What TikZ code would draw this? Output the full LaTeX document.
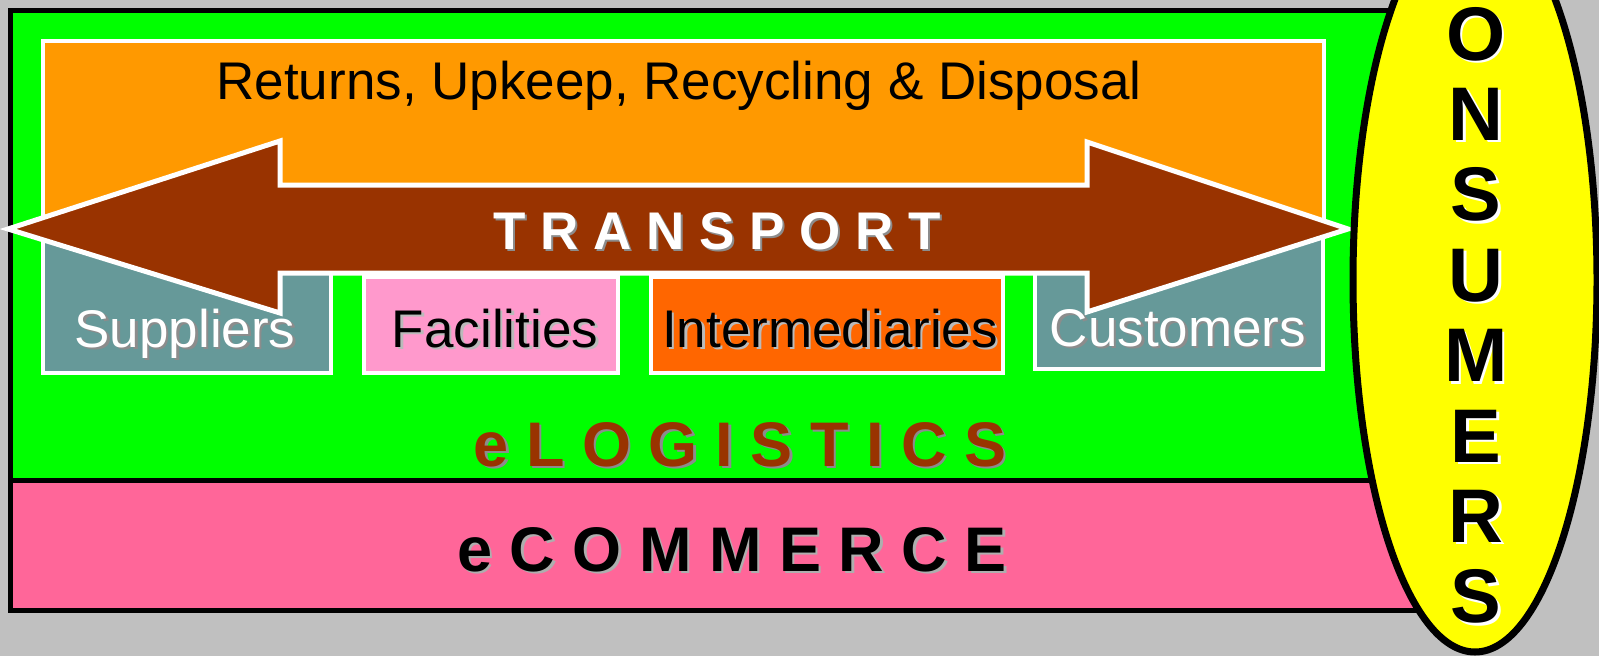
\documentclass[tikz,border=0pt]{standalone}
\usepackage{fontspec}
\setmainfont{Liberation Sans}
\usepackage{tikz}
\usetikzlibrary{positioning}
\usepackage{xcolor}

\definecolor{bggray}{HTML}{C0C0C0}
\definecolor{lgreen}{HTML}{00FF00}
\definecolor{compink}{HTML}{FF6699}
\definecolor{retorange}{HTML}{FF9900}
\definecolor{trbrown}{HTML}{993300}
\definecolor{partteal}{HTML}{669999}
\definecolor{facpink}{HTML}{FF99CC}
\definecolor{intorange}{HTML}{FF6600}
\definecolor{conyellow}{HTML}{FFFF00}
\definecolor{shgray}{HTML}{8C8C8C}

% text with a small drop shadow
\newcommand{\shtxt}[2]{\makebox[0pt][l]{\hspace{2.5pt}\raisebox{-2.5pt}{\textcolor{#1}{#2}}}#2}

\begin{document}
\begin{tikzpicture}[x=1pt,y=-1pt]
  \tikzstyle{lbl}=[inner sep=0pt,anchor=base,font=\fontsize{53}{60}\selectfont]
  \tikzstyle{big}=[inner sep=0pt,anchor=base,font=\fontsize{63}{70}\selectfont\bfseries]
  \tikzstyle{layer}=[draw=black,line width=5pt]
  \tikzstyle{wbox}=[draw=white,line width=4pt]

  \useasboundingbox (0,0) rectangle (1599,656);
  \clip (0,0) rectangle (1599,656);
  \fill[bggray] (0,0) rectangle (1599,656);

  % layers
  \draw[layer,fill=lgreen]  (10.5,10.5) rectangle (1420,480);
  \draw[layer,fill=compink] (10.5,480) rectangle (1420,610);

  \draw[wbox,fill=retorange] (42.5,41)  rectangle (1323.5,235);
  \draw[wbox,fill=partteal]  (42.5,235) rectangle (330.5,372.5);
  \draw[wbox,fill=facpink]   (363.5,277) rectangle (618,372.5);
  \draw[wbox,fill=intorange] (651,277)  rectangle (1002.5,372.5);
  \draw[wbox,fill=partteal]  (1034.5,235) rectangle (1323,369);

  % transport arrow
  \draw[draw=white,line width=5pt,line join=miter,fill=trbrown]
    (8,229) -- (280,141) -- (280,185) -- (1087,185) -- (1087,142)
    -- (1348,229) -- (1087,312) -- (1087,273) -- (280,273) -- (280,313) -- cycle;

  \node[lbl] (ret) at (679,99) {Returns, Upkeep, Recycling \& Disposal};
  \node[lbl,text=white] (sup) at (185,347) {\shtxt{shgray}{Suppliers}};
  \node[lbl] (fac) at (495,347) {\shtxt{shgray!60}{Facilities}};
  \node[lbl] (int) at (830,347) {\shtxt{shgray!60}{Intermediaries}};
  \node[lbl,text=white] (cus) at (1178,346) {\shtxt{shgray}{Customers}};

  \node[big,text=white,font=\fontsize{53}{60}\selectfont\bfseries] (tra) at (717,249)
    {\shtxt{shgray}{T R A N S P O R T}};
  \node[big,text=trbrown] (log) at (740,466) {\shtxt{shgray}{e L O G I S T I C S}};
  \node[big] (com) at (732,571) {\shtxt{shgray!70}{e C O M M E R C E}};

  % consumers
  \draw[line width=7pt,fill=conyellow] (1475,280) ellipse [x radius=122, y radius=372];
  \foreach \l [count=\i] in {O,N,S,U,M,E,R,S}
    \node[inner sep=0pt,anchor=base,font=\fontsize{76}{80}\selectfont\bfseries]
      (con\i) at (1476,{60+80.4*(\i-1)}) {\shtxt{white}{\l}};
\end{tikzpicture}
\end{document}
